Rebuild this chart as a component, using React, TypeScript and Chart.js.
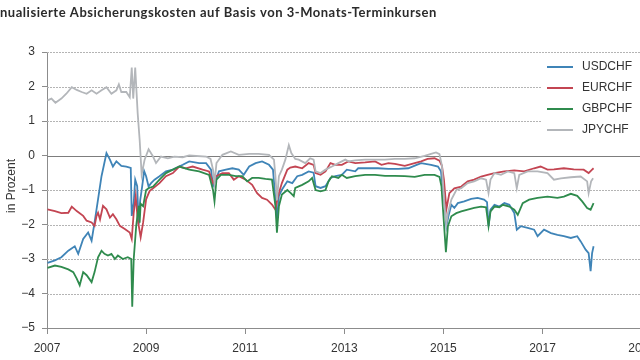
import React, { useEffect, useRef } from "react";
import { Chart, registerables } from "chart.js";

Chart.register(...registerables);

const titleText = "Annualisierte Absicherungskosten auf Basis von 3-Monats-Terminkursen";
const yAxisLabel = "in Prozent";
const seriesNames = ["USDCHF", "EURCHF", "GBPCHF", "JPYCHF"];
const seriesColors = ["#3f84b7", "#c34552", "#2f8b4d", "#b3b6ba"];
const yTicks = [-5, -4, -3, -2, -1, 0, 1, 2, 3];
const xTickYears = [2007, 2009, 2011, 2013, 2015, 2017, 2019];

const usdDates = [2007.01, 2007.16, 2007.29, 2007.43, 2007.56, 2007.63, 2007.73, 2007.83, 2007.9, 2007.96, 2008.03, 2008.1, 2008.15, 2008.2, 2008.27, 2008.33, 2008.4, 2008.5, 2008.6, 2008.69, 2008.71, 2008.75, 2008.78, 2008.82, 2008.85, 2008.88, 2008.92, 2008.96, 2009.0, 2009.05, 2009.1, 2009.17, 2009.27, 2009.4, 2009.54, 2009.74, 2009.87, 2010.07, 2010.21, 2010.31, 2010.35, 2010.41, 2010.47, 2010.61, 2010.74, 2010.87, 2010.97, 2011.08, 2011.21, 2011.34, 2011.48, 2011.56, 2011.61, 2011.64, 2011.68, 2011.74, 2011.85, 2011.95, 2012.05, 2012.15, 2012.28, 2012.38, 2012.42, 2012.52, 2012.62, 2012.72, 2012.82, 2012.95, 2013.05, 2013.22, 2013.28, 2013.48, 2013.68, 2013.89, 2014.09, 2014.29, 2014.46, 2014.55, 2014.75, 2014.89, 2014.95, 2015.01, 2015.06, 2015.1, 2015.16, 2015.22, 2015.29, 2015.42, 2015.56, 2015.69, 2015.82, 2015.88, 2015.91, 2015.95, 2016.03, 2016.13, 2016.23, 2016.33, 2016.43, 2016.48, 2016.56, 2016.7, 2016.83, 2016.9, 2017.03, 2017.17, 2017.3, 2017.43, 2017.57, 2017.7, 2017.77, 2017.87, 2017.93, 2017.97, 2018.0, 2018.03];
const usdValues = [-3.11, -3.04, -2.95, -2.76, -2.63, -2.85, -2.42, -2.23, -2.47, -1.94, -1.27, -0.6, -0.27, 0.07, -0.12, -0.32, -0.17, -0.3, -0.32, -0.36, -1.75, -1.37, -0.7, -0.89, -2.0, -1.3, -0.9, -0.45, -0.6, -0.9, -0.8, -0.7, -0.6, -0.46, -0.41, -0.27, -0.17, -0.22, -0.22, -0.41, -0.89, -0.7, -0.46, -0.41, -0.37, -0.41, -0.56, -0.32, -0.22, -0.17, -0.27, -0.41, -1.28, -1.86, -1.18, -0.99, -0.75, -0.8, -0.6, -0.56, -0.46, -0.5, -0.89, -0.94, -0.89, -0.65, -0.6, -0.56, -0.41, -0.46, -0.37, -0.37, -0.37, -0.39, -0.39, -0.37, -0.27, -0.22, -0.27, -0.32, -0.46, -1.28, -2.05, -1.76, -1.43, -1.52, -1.38, -1.33, -1.26, -1.23, -1.28, -1.35, -2.05, -1.57, -1.43, -1.48, -1.38, -1.43, -1.67, -2.15, -2.05, -2.1, -2.15, -2.34, -2.15, -2.25, -2.3, -2.34, -2.39, -2.34, -2.49, -2.73, -2.83, -3.35, -2.83, -2.63];

const eurDates = [2007.01, 2007.16, 2007.29, 2007.43, 2007.5, 2007.6, 2007.73, 2007.8, 2007.9, 2007.96, 2008.0, 2008.03, 2008.07, 2008.13, 2008.2, 2008.27, 2008.33, 2008.4, 2008.47, 2008.57, 2008.67, 2008.71, 2008.75, 2008.79, 2008.83, 2008.89, 2008.94, 2009.0, 2009.07, 2009.14, 2009.27, 2009.4, 2009.54, 2009.67, 2009.8, 2009.94, 2010.14, 2010.27, 2010.35, 2010.41, 2010.54, 2010.67, 2010.77, 2010.87, 2011.01, 2011.14, 2011.24, 2011.34, 2011.44, 2011.54, 2011.61, 2011.66, 2011.74, 2011.85, 2011.91, 2012.01, 2012.15, 2012.28, 2012.38, 2012.42, 2012.52, 2012.62, 2012.72, 2012.82, 2012.95, 2013.08, 2013.22, 2013.42, 2013.62, 2013.75, 2013.89, 2014.02, 2014.22, 2014.42, 2014.55, 2014.68, 2014.82, 2014.92, 2014.97, 2015.01, 2015.06, 2015.12, 2015.22, 2015.36, 2015.49, 2015.62, 2015.76, 2015.89, 2016.03, 2016.23, 2016.43, 2016.63, 2016.83, 2016.96, 2017.1, 2017.23, 2017.43, 2017.63, 2017.83, 2017.93, 2018.0, 2018.03];
const eurValues = [-1.56, -1.61, -1.67, -1.66, -1.48, -1.61, -1.75, -1.89, -1.94, -2.04, -1.75, -1.66, -1.85, -1.46, -1.56, -1.8, -1.7, -1.85, -2.04, -2.13, -2.23, -2.42, -1.66, -1.18, -1.85, -2.37, -1.94, -1.27, -1.03, -0.95, -0.8, -0.6, -0.51, -0.32, -0.37, -0.32, -0.41, -0.46, -0.8, -0.6, -0.51, -0.51, -0.7, -0.6, -0.7, -0.85, -1.09, -1.23, -1.28, -1.42, -1.57, -1.18, -0.8, -0.41, -0.35, -0.32, -0.37, -0.22, -0.27, -0.51, -0.56, -0.46, -0.22, -0.27, -0.27, -0.17, -0.22, -0.2, -0.17, -0.27, -0.22, -0.24, -0.3, -0.22, -0.17, -0.1, -0.08, -0.15, -0.3, -0.7, -1.55, -1.09, -0.95, -0.9, -0.75, -0.7, -0.61, -0.56, -0.51, -0.46, -0.43, -0.46, -0.37, -0.32, -0.41, -0.4, -0.37, -0.4, -0.41, -0.51, -0.41, -0.37];

const gbpDates = [2007.01, 2007.16, 2007.29, 2007.43, 2007.53, 2007.6, 2007.66, 2007.73, 2007.8, 2007.9, 2007.96, 2008.03, 2008.1, 2008.16, 2008.23, 2008.3, 2008.37, 2008.43, 2008.53, 2008.63, 2008.7, 2008.72, 2008.75, 2008.8, 2008.85, 2008.87, 2008.89, 2008.94, 2009.0, 2009.05, 2009.14, 2009.27, 2009.4, 2009.54, 2009.67, 2009.87, 2010.07, 2010.27, 2010.35, 2010.38, 2010.42, 2010.51, 2010.67, 2010.81, 2010.94, 2011.04, 2011.14, 2011.27, 2011.41, 2011.54, 2011.61, 2011.64, 2011.68, 2011.74, 2011.85, 2011.92, 2011.98, 2012.01, 2012.15, 2012.28, 2012.35, 2012.42, 2012.52, 2012.62, 2012.68, 2012.75, 2012.88, 2012.95, 2013.05, 2013.22, 2013.42, 2013.62, 2013.82, 2014.02, 2014.22, 2014.42, 2014.62, 2014.82, 2014.92, 2014.96, 2015.01, 2015.05, 2015.09, 2015.16, 2015.26, 2015.36, 2015.49, 2015.62, 2015.76, 2015.86, 2015.91, 2015.95, 2016.03, 2016.13, 2016.2, 2016.33, 2016.43, 2016.5, 2016.6, 2016.73, 2016.9, 2017.1, 2017.3, 2017.43, 2017.57, 2017.7, 2017.8, 2017.9, 2017.97, 2018.03];
const gbpValues = [-3.26, -3.19, -3.23, -3.3, -3.38, -3.57, -3.76, -3.38, -3.47, -3.67, -3.38, -2.95, -2.76, -2.85, -2.9, -2.85, -3.0, -2.9, -3.0, -2.95, -3.0, -4.38, -3.0, -2.04, -1.46, -1.95, -1.4, -1.47, -1.0, -0.95, -0.9, -0.7, -0.51, -0.41, -0.32, -0.41, -0.46, -0.56, -1.0, -1.33, -0.7, -0.56, -0.56, -0.6, -0.6, -0.75, -0.65, -0.65, -0.68, -0.7, -1.47, -2.24, -1.47, -1.13, -1.0, -1.09, -1.18, -0.94, -0.85, -0.75, -0.65, -1.0, -1.04, -1.0, -0.75, -0.6, -0.65, -0.56, -0.65, -0.6, -0.56, -0.56, -0.59, -0.59, -0.6, -0.62, -0.56, -0.56, -0.62, -0.89, -1.96, -2.8, -2.05, -1.76, -1.67, -1.62, -1.57, -1.52, -1.48, -1.5, -2.05, -1.62, -1.48, -1.5, -1.43, -1.48, -1.57, -1.72, -1.38, -1.28, -1.23, -1.19, -1.23, -1.19, -1.11, -1.17, -1.33, -1.52, -1.57, -1.38];

const jpyDates = [2007.01, 2007.09, 2007.17, 2007.29, 2007.39, 2007.5, 2007.6, 2007.7, 2007.8, 2007.9, 2008.0, 2008.1, 2008.2, 2008.3, 2008.4, 2008.45, 2008.5, 2008.6, 2008.67, 2008.71, 2008.74, 2008.78, 2008.83, 2008.87, 2008.91, 2008.97, 2009.05, 2009.14, 2009.2, 2009.3, 2009.44, 2009.57, 2009.74, 2009.87, 2010.21, 2010.3, 2010.35, 2010.38, 2010.42, 2010.54, 2010.71, 2010.87, 2011.08, 2011.27, 2011.48, 2011.58, 2011.61, 2011.64, 2011.68, 2011.74, 2011.81, 2011.88, 2011.93, 2012.01, 2012.08, 2012.21, 2012.31, 2012.38, 2012.42, 2012.52, 2012.62, 2012.75, 2012.88, 2013.02, 2013.08, 2013.22, 2013.42, 2013.62, 2013.82, 2014.02, 2014.22, 2014.42, 2014.62, 2014.75, 2014.85, 2014.92, 2014.97, 2015.02, 2015.06, 2015.09, 2015.16, 2015.26, 2015.36, 2015.49, 2015.62, 2015.76, 2015.86, 2015.91, 2015.95, 2016.03, 2016.16, 2016.3, 2016.43, 2016.48, 2016.53, 2016.7, 2016.9, 2017.1, 2017.23, 2017.37, 2017.57, 2017.77, 2017.9, 2017.93, 2017.98, 2018.02];
const jpyValues = [1.6, 1.65, 1.53, 1.65, 1.79, 1.98, 1.9, 1.84, 1.79, 1.89, 1.79, 1.89, 1.98, 1.79, 1.89, 2.06, 1.84, 1.84, 1.69, 2.55, 1.65, 2.55, 1.22, 0.45, -0.55, -0.12, 0.18, -0.03, -0.22, -0.03, -0.08, -0.03, -0.05, 0.0, -0.03, -0.1, -0.41, -0.8, -0.22, 0.02, 0.12, 0.02, 0.05, 0.05, 0.02, -0.12, -0.6, -1.3, -0.6, -0.41, -0.12, 0.3, 0.07, -0.1, -0.12, -0.22, -0.08, -0.12, -0.46, -0.51, -0.41, -0.32, -0.22, -0.12, -0.17, -0.14, -0.12, -0.12, -0.12, -0.1, -0.1, -0.08, -0.01, 0.05, 0.09, 0.04, -0.3, -1.48, -1.96, -1.67, -1.28, -1.0, -0.95, -0.8, -0.75, -0.66, -0.7, -1.09, -0.7, -0.51, -0.56, -0.46, -0.51, -0.95, -0.56, -0.46, -0.46, -0.51, -0.7, -0.66, -0.63, -0.61, -0.75, -1.09, -0.75, -0.66];

const seriesDates = [usdDates, eurDates, gbpDates, jpyDates];
const seriesValues = [usdValues, eurValues, gbpValues, jpyValues];
const drawOrder = [3, 2, 1, 0];

const tickFont = { family: "'Liberation Sans', Arial, sans-serif", size: 12 };
const textColor = "#333333";
const axisColor = "#8c8c8c";

const fmtY = (v: number) => (v < 0 ? "\u2212" + Math.abs(v) : String(v));

const decorPlugin = {
  id: "decor",
  beforeDatasetsDraw(chart: any) {
    const { ctx, chartArea, scales } = chart;
    const ys = scales.y;
    ctx.save();
    yTicks.forEach((v) => {
      if (v === -5) return;
      const py = Math.round(ys.getPixelForValue(v)) + 0.5;
      ctx.beginPath();
      if (v === 0) {
        ctx.setLineDash([]);
        ctx.strokeStyle = "#7d7d7d";
        ctx.lineWidth = 1.2;
      } else {
        ctx.setLineDash([2, 1]);
        ctx.strokeStyle = "#b4b4b4";
        ctx.lineWidth = 1;
      }
      ctx.moveTo(chartArea.left, py);
      ctx.lineTo(chartArea.right, py);
      ctx.stroke();
    });
    ctx.restore();
  },
  afterDraw(chart: any) {
    const { ctx, chartArea } = chart;
    ctx.save();
    // title (left part cut off as in the source crop)
    ctx.font = "bold 13px Lato, sans-serif";
    ctx.fillStyle = "#2b2b2b";
    ctx.textBaseline = "alphabetic";
    ctx.textAlign = "left";
    const probe = "nualisierte Absicherungskost";
    const natural = ctx.measureText(probe).width;
    const spacing = Math.max(-0.6, Math.min(0.6, (181 - natural) / probe.length));
    (ctx as any).letterSpacing = spacing.toFixed(2) + "px";
    const cut = ctx.measureText("An").width;
    ctx.fillText(titleText, -cut, 16.5);
    (ctx as any).letterSpacing = "0px";

    // y axis label
    ctx.save();
    ctx.translate(12, (chartArea.top + chartArea.bottom) / 2 - 4);
    ctx.rotate(-Math.PI / 2);
    ctx.font = "12px 'Liberation Sans', Arial, sans-serif";
    ctx.fillStyle = textColor;
    ctx.textAlign = "center";
    ctx.textBaseline = "middle";
    ctx.fillText(yAxisLabel, 0, 0);
    ctx.restore();

    // legend
    ctx.fillStyle = "#ffffff";
    ctx.fillRect(542, 57, 120, 83);
    ctx.font = "12px 'Liberation Sans', Arial, sans-serif";
    ctx.textBaseline = "middle";
    ctx.textAlign = "left";
    seriesNames.forEach((name, i) => {
      const y = 67 + i * 21;
      ctx.strokeStyle = seriesColors[i];
      ctx.lineWidth = 2;
      ctx.beginPath();
      ctx.moveTo(547, y);
      ctx.lineTo(573, y);
      ctx.stroke();
      ctx.fillStyle = textColor;
      ctx.fillText(name, 582, y);
    });
    ctx.restore();
  },
};

export default function App() {
  const canvasRef = useRef<HTMLCanvasElement | null>(null);

  useEffect(() => {
    if (!canvasRef.current) return;
    const chart = new Chart(canvasRef.current, {
      type: "line",
      data: {
        datasets: seriesNames.map((name, i) => ({
          label: name,
          data: seriesDates[i].map((d, j) => ({ x: d, y: seriesValues[i][j] })),
          borderColor: seriesColors[i],
          backgroundColor: seriesColors[i],
          borderWidth: 1.8,
          pointRadius: 0,
          tension: 0,
          fill: false,
          order: drawOrder[i],
        })),
      },
      options: {
        animation: false,
        responsive: false,
        maintainAspectRatio: false,
        layout: { padding: { top: 52, right: 17, bottom: 0, left: 0 } },
        plugins: { legend: { display: false }, tooltip: { enabled: false } },
        scales: {
          x: {
            type: "linear",
            min: xTickYears[0],
            max: xTickYears[xTickYears.length - 1],
            afterFit: (s: any) => {
              s.height = 32;
            },
            afterBuildTicks: (s: any) => {
              s.ticks = xTickYears.map((v) => ({ value: v }));
            },
            ticks: {
              callback: (v: any) => String(v),
              font: tickFont,
              color: textColor,
              padding: 7,
              maxRotation: 0,
              autoSkip: false,
            },
            grid: { drawOnChartArea: false, drawTicks: true, tickLength: 6, color: axisColor },
            border: { color: axisColor },
          },
          y: {
            min: -5,
            max: 3,
            afterFit: (s: any) => {
              s.width = 47;
            },
            afterBuildTicks: (s: any) => {
              s.ticks = yTicks.map((v) => ({ value: v }));
            },
            ticks: {
              callback: (v: any) => fmtY(Number(v)),
              font: tickFont,
              color: textColor,
              padding: 7,
            },
            grid: { drawOnChartArea: false, drawTicks: true, tickLength: 5, color: axisColor },
            border: { color: axisColor },
          },
        },
      },
      plugins: [decorPlugin],
    });
    return () => chart.destroy();
  }, []);

  return (
    <div style={{ position: "fixed", left: 0, top: 0, width: 640, height: 360, overflow: "hidden", background: "#fff" }}>
      <canvas ref={canvasRef} width={662} height={360} style={{ display: "block" }} />
    </div>
  );
}
